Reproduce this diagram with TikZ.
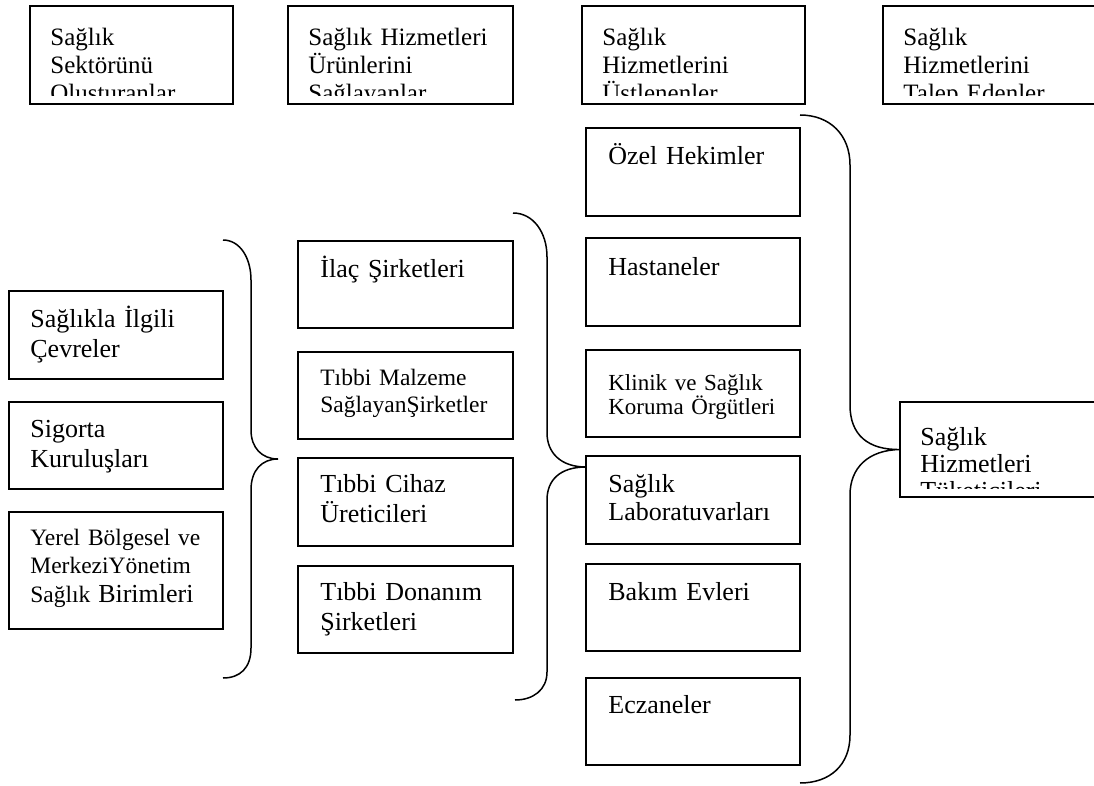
\documentclass[tikz,border=0pt]{standalone}
\usepackage{fontspec}
\setmainfont{Liberation Serif}

\tikzset{every picture/.style={line width=0.75pt}}
\tikzset{
  kutu/.style={draw, line width=1.8pt, anchor=north west, inner sep=0pt, outer sep=0pt},
  metin/.style={anchor=base west, inner sep=0pt, text width=280pt, align=left, font=\fontsize{26}{30}\selectfont},
  ustmetin/.style={metin, font=\fontsize{25}{28}\selectfont},
  kucuk/.style={metin, font=\fontsize{23.5}{27}\selectfont},
  kivrik/.style={line width=1.5pt}
}

\begin{document}
\begin{tikzpicture}[x=1pt,y=1pt,yscale=-1,xscale=1]
\useasboundingbox (0,0) rectangle (1094,786);

%Top row boxes
\node [kutu, minimum width=203pt, minimum height=98pt] (olusturan) at (30,6) {};
\node [kutu, minimum width=225pt, minimum height=98pt] (urun) at (288,6) {};
\node [kutu, minimum width=223pt, minimum height=98pt] (ustlenen) at (582,6) {};
\node [kutu, minimum width=220pt, minimum height=98pt] (talep) at (883,6) {};

% Text Node
\begin{scope}
\clip (olusturan.north west) rectangle ([yshift=-8pt]olusturan.south east);
\node [ustmetin] (olusturan-t) at (50,46) {Sağlık\\Sektörünü\\Oluşturanlar};
\end{scope}
% Text Node
\begin{scope}
\clip (urun.north west) rectangle ([yshift=-8pt]urun.south east);
\node [ustmetin] (urun-t) at (308,46) {Sağlık Hizmetleri\\Ürünlerini\\Sağlayanlar};
\end{scope}
% Text Node
\begin{scope}
\clip (ustlenen.north west) rectangle ([yshift=-8pt]ustlenen.south east);
\node [ustmetin] (ustlenen-t) at (602,46) {Sağlık\\Hizmetlerini\\Üstlenenler};
\end{scope}
% Text Node
\begin{scope}
\clip (talep.north west) rectangle ([yshift=-8pt]talep.south east);
\node [ustmetin] (talep-t) at (903,46) {Sağlık\\Hizmetlerini\\Talep Edenler};
\end{scope}

%Left column
\node [kutu, minimum width=214pt, minimum height=88pt] (cevre) at (9,291) {};
\node [kutu, minimum width=214pt, minimum height=87pt] (sigorta) at (9,402) {};
\node [kutu, minimum width=214pt, minimum height=117pt] (yerel) at (9,512) {};
% Text Node
\node [metin] (cevre-t) at (30,327) {Sağlıkla İlgili\\Çevreler};
% Text Node
\node [metin] (sigorta-t) at (30,437) {Sigorta\\Kuruluşları};
% Text Node
\node [kucuk, font=\fontsize{23.5}{28.5}\selectfont] (yerel-t) at (30,545) {Yerel Bölgesel ve\\MerkeziYönetim\\Sağlık {\fontsize{26}{28.5}\selectfont Birimleri}};

%Left brace
\coordinate (uc1) at (278,459);
\draw [kivrik] (223,240) .. controls (240,240) and (251,258) .. (251,280) -- (251,430) .. controls (251,448) and (262,459) .. (uc1) .. controls (262,459) and (251,470) .. (251,490) -- (251,648) .. controls (251,668) and (240,678) .. (223,678) ;

%Second column
\node [kutu, minimum width=215pt, minimum height=87pt] (ilac) at (298,241) {};
\node [kutu, minimum width=215pt, minimum height=87pt] (malzeme) at (298,352) {};
\node [kutu, minimum width=215pt, minimum height=88pt] (cihaz) at (298,458) {};
\node [kutu, minimum width=215pt, minimum height=87pt] (donanim) at (298,566) {};
% Text Node
\node [metin] (ilac-t) at (320,277) {İlaç Şirketleri};
% Text Node
\node [kucuk] (malzeme-t) at (320,385) {Tıbbi Malzeme\\SağlayanŞirketler};
% Text Node
\node [metin] (cihaz-t) at (320,492) {Tıbbi Cihaz\\Üreticileri};
% Text Node
\node [metin] (donanim-t) at (320,600) {Tıbbi Donanım\\Şirketleri};

%Third column
\node [kutu, minimum width=214pt, minimum height=88pt] (hekim) at (586,128) {};
\node [kutu, minimum width=214pt, minimum height=88pt] (hastane) at (586,238) {};
\node [kutu, minimum width=214pt, minimum height=87pt] (klinik) at (586,350) {};
\node [kutu, minimum width=214pt, minimum height=88pt] (lab) at (586,456) {};
\node [kutu, minimum width=214pt, minimum height=87pt] (bakim) at (586,564) {};
\node [kutu, minimum width=214pt, minimum height=87pt] (eczane) at (586,678) {};
% Text Node
\node [metin] (hekim-t) at (608,165) {Özel Hekimler};
% Text Node
\node [metin] (hastane-t) at (608,275) {Hastaneler};
% Text Node
\node [kucuk, font=\fontsize{23}{24}\selectfont] (klinik-t) at (608,390) {Klinik ve Sağlık\\Koruma Örgütleri};
% Text Node
\node [metin, font=\fontsize{26}{28}\selectfont] (lab-t) at (608,492) {Sağlık\\Laboratuvarları};
% Text Node
\node [metin] (bakim-t) at (608,600) {Bakım Evleri};
% Text Node
\node [metin] (eczane-t) at (608,713) {Eczaneler};

%Middle brace
\draw [kivrik] (513,213) .. controls (533,213) and (547,232) .. (547,257) -- (547,433) .. controls (547,452) and (560,467) .. ([shift={(0,11)}]lab.north west) .. controls (560,467) and (547,480) .. (547,500) -- (547,672) .. controls (547,690) and (533,700) .. (515,700) ;

%Right box
\node [kutu, minimum width=210pt, minimum height=95pt] (tuketici) at (900,402) {};
% Text Node
\begin{scope}
\clip (tuketici.north west) rectangle ([yshift=-9pt]tuketici.south east);
\node [metin, font=\fontsize{26}{27}\selectfont] (tuketici-t) at (920,445) {Sağlık\\Hizmetleri\\Tüketicileri};
\end{scope}

%Right brace
\draw [kivrik] (800,115) .. controls (830,115) and (850,135) .. (850,165) -- (850,405) .. controls (850,435) and (868,450) .. (tuketici.west) .. controls (868,450) and (850,468) .. (850,495) -- (850,735) .. controls (850,765) and (830,783) .. (800,783) ;

\end{tikzpicture}
\end{document}
